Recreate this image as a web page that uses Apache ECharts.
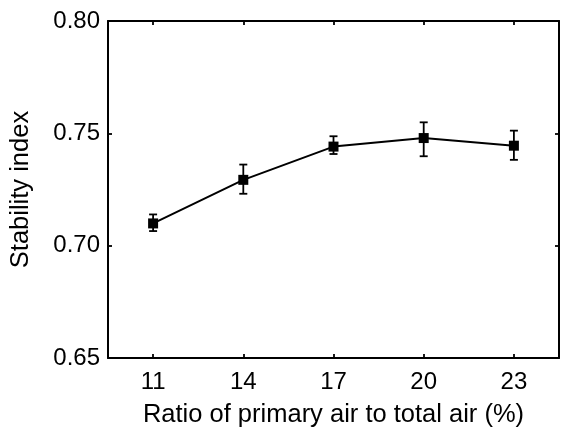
<!DOCTYPE html>
<html>
<head>
<meta charset="utf-8">
<script src="https://cdn.jsdelivr.net/npm/echarts@6/dist/echarts.min.js"></script>
<style>html,body{margin:0;padding:0;background:#fff}#c{width:561px;height:437px}</style>
</head>
<body>
<div id="c"></div>
<script>
const categories = ['11', '14', '17', '20', '23'];
const stability = [0.7099, 0.7293, 0.7441, 0.7479, 0.7445];
const errLow = [0.7065, 0.7231, 0.7408, 0.7398, 0.7382];
const errHigh = [0.7139, 0.7361, 0.7487, 0.7549, 0.7512];
const yTicks = [0.65, 0.70, 0.75, 0.80];

const font = 'Liberation Sans, Arial, sans-serif';
const chart = echarts.init(document.getElementById('c'), null, {renderer: 'canvas'});
const axisLine = {show: true, onZero: false, lineStyle: {color: '#000', width: 2}};
const tick = {show: true, inside: true, length: 4, alignWithLabel: true, lineStyle: {color: '#000', width: 1.8}};

chart.setOption({
  animation: false,
  backgroundColor: '#fff',
  grid: {left: 108, right: 2, top: 21, bottom: 79, containLabel: false},
  xAxis: [{
    type: 'category', data: categories, boundaryGap: true,
    axisLine: axisLine, axisTick: tick,
    axisLabel: {color: '#000', fontSize: 24, fontFamily: font, margin: 12},
    name: 'Ratio of primary air to total air (%)', nameLocation: 'middle', nameGap: 44,
    nameTextStyle: {color: '#000', fontSize: 25.5, fontFamily: font},
    splitLine: {show: false}
  }, {
    type: 'category', data: categories, boundaryGap: true, position: 'top',
    axisLine: axisLine, axisTick: tick, axisLabel: {show: false}, splitLine: {show: false}
  }],
  yAxis: [{
    type: 'value', min: yTicks[0], max: yTicks[yTicks.length - 1], interval: 0.05,
    axisLine: axisLine, axisTick: tick,
    axisLabel: {color: '#000', fontSize: 24, fontFamily: font, margin: 8,
      formatter: v => v.toFixed(2)},
    name: 'Stability index', nameLocation: 'middle', nameGap: 74, nameRotate: 90,
    nameTextStyle: {color: '#000', fontSize: 25.5, fontFamily: font},
    splitLine: {show: false}
  }, {
    type: 'value', min: yTicks[0], max: yTicks[yTicks.length - 1], interval: 0.05, position: 'right',
    axisLine: axisLine, axisTick: tick, axisLabel: {show: false}, splitLine: {show: false}
  }],
  series: [{
    type: 'line', data: stability, symbol: 'rect', symbolSize: 10,
    itemStyle: {color: '#000'}, lineStyle: {color: '#000', width: 2}, z: 3
  }, {
    type: 'custom', z: 4,
    data: categories.map((c, i) => [i, errLow[i], errHigh[i]]),
    renderItem: function (params, api) {
      const lo = api.coord([api.value(0), api.value(1)]);
      const hi = api.coord([api.value(0), api.value(2)]);
      const hw = 4;
      const st = {stroke: '#000', lineWidth: 1.8};
      return {type: 'group', children: [
        {type: 'line', shape: {x1: lo[0], y1: lo[1], x2: hi[0], y2: hi[1]}, style: st},
        {type: 'line', shape: {x1: lo[0] - hw, y1: lo[1], x2: lo[0] + hw, y2: lo[1]}, style: st},
        {type: 'line', shape: {x1: hi[0] - hw, y1: hi[1], x2: hi[0] + hw, y2: hi[1]}, style: st}
      ]};
    }
  }]
});
</script>
</body>
</html>
